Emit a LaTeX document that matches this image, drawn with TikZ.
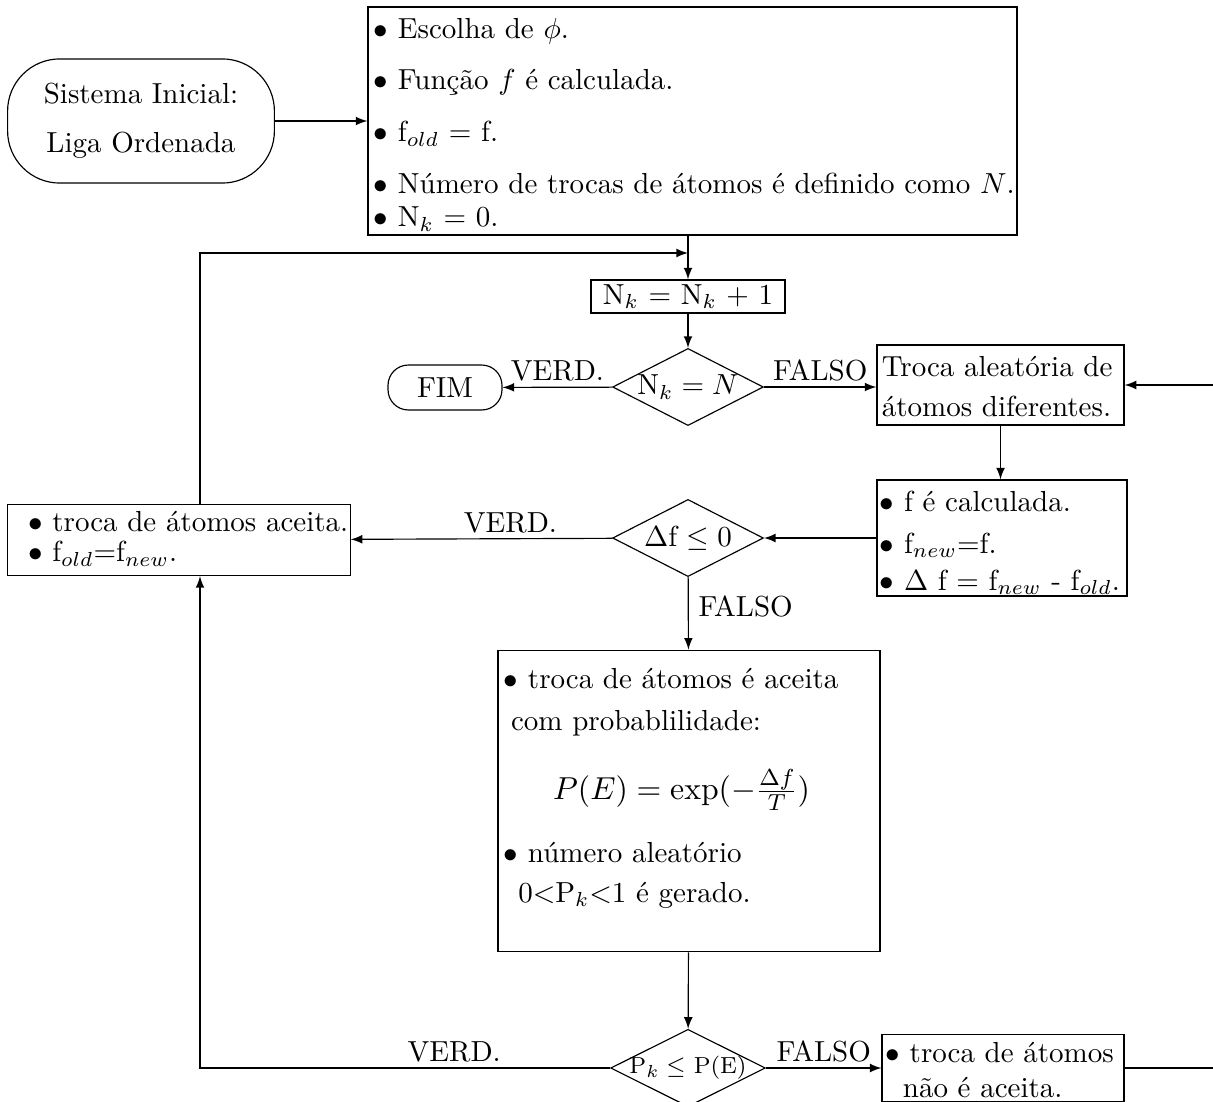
\documentclass[tikz,border=0pt]{standalone}
\usetikzlibrary{shapes.geometric}

\begin{document}
\begin{tikzpicture}
  [->,>=latex,x=0.3448pt,y=-0.3448pt,
	box node/.style={rectangle,draw,align=left,inner xsep=2pt,inner ysep=0pt},
	end node/.style={rectangle,draw,rounded corners=18pt,align=center},
	test node/.style={diamond,draw,aspect=2,inner sep=0pt,
  minimum width=52pt,minimum height=26.6pt},
	tag node/.style={inner sep=1.8pt}]

  \useasboundingbox (0,0) rectangle (1213,1101);
  \clip (0,0) rectangle (1213,1101);

  \node[end node,minimum width=92pt,minimum height=42.8pt] (start) at (141,121)
    {Sistema Inicial:\\[5pt]Liga Ordenada};
  \node[box node,text width=219.8pt,text height=10.7pt,text depth=67.9pt] (init) at (692.5,121)
    {$\bullet$ Escolha de $\phi$.\\[5.9pt]
     $\bullet$ Função $f$ é calculada.\\[5.9pt]
     $\bullet$ f$_{old}$ = f.\\[5.9pt]
     \mbox{$\bullet$ Número de trocas de átomos é definido como $N$.}\\[-0.6pt]
     $\bullet$ N$_k$ = 0.};
  \node[box node,minimum width=66.9pt,minimum height=11.4pt,align=center] (count) at (688,296.5)
    {N$_k$ = N$_k$ + 1};
  \node[test node] (last) at (688,387) {N$_k = N$};
  \node[end node,rounded corners=7pt,minimum width=39.3pt,minimum height=15.5pt] (end) at (445,387.5) {FIM};
  \node[box node,text width=81.8pt,text height=10.7pt,text depth=16.9pt,inner xsep=1.7pt] (swap) at (1000.5,385)
    {\mbox{Troca aleatória de}\\[2.1pt]\mbox{átomos diferentes.}};
  \node[box node,text width=84.2pt,text height=10.8pt,text depth=29.2pt,inner xsep=1pt] (calc) at (1002,538)
    {$\bullet$ f é calculada.\\[2.5pt]
     $\bullet$ f$_{new}$=f.\\[0.8pt]
     \mbox{$\bullet$ $\Delta$ f = f$_{new}$ - f$_{old}$.}};
  \node[test node] (sign) at (688,538) {$\Delta$f $\leq 0$};
  \node[box node,text width=118pt,text height=9.3pt,text depth=15.2pt,inner xsep=0pt] (keep) at (179,540)
    {\hspace*{7pt}\mbox{$\bullet$ troca de átomos aceita.}\\[-1.5pt]
     \hspace*{7pt}$\bullet$ f$_{old}$=f$_{new}$.};
  \node[box node,text width=127.7pt,text height=13.1pt,text depth=90.9pt] (prob) at (689,801)
    {$\bullet$ troca de átomos é aceita\\[2.5pt]
     \hspace*{2.5pt}com probablilidade:\\[10.6pt]
     \hspace*{17pt}{\fontsize{11}{13}\selectfont$P(E) = \exp(-\frac{\Delta f}{T})$}\\[9.5pt]
     $\bullet$ número aleatório\\[1.8pt]
     \hspace*{5pt}0$<$P$_k$$<$1 é gerado.};
  \node[test node,font=\footnotesize,inner sep=-0.5pt] (accept) at (688,1068) {P$_k \leq$ P(E)};
  \node[box node,text width=81pt,text height=9.7pt,text depth=13.7pt,inner xsep=1.2pt] (reject) at (1003,1068)
    {$\bullet$ troca de átomos\\ \hspace*{6pt}não é aceita.};

  \coordinate (join) at (688,253);
  \coordinate (out) at ([xshift=40pt]swap.east);

  \draw (start) -- (start -| init.west);
  \draw (init.south -| count) -- (count);
  \draw ([xshift=7.24pt]keep.north) |- (join);
  \draw (count) -- (last);
  \draw (last) -- node[tag node,above] {VERD.} (end);
  \draw (last) -- node[tag node,above] {FALSO} (last -| swap.west);
  \draw (swap) -- (swap |- calc.north);
  \draw (calc) -- (sign);
  \draw (sign) -- node[tag node,above,pos=0.39] {VERD.} (keep);
  \draw (sign) -- node[right,pos=0.4] {FALSO} (prob);
  \draw (prob) -- (accept);
  \draw (accept) -| node[tag node,above,pos=0.19] {VERD.} ([xshift=7.24pt]keep.south);
  \draw (accept) -- node[tag node,above] {FALSO} (reject);
  \draw (reject) -| (out) -- (swap);
\end{tikzpicture}
\end{document}
